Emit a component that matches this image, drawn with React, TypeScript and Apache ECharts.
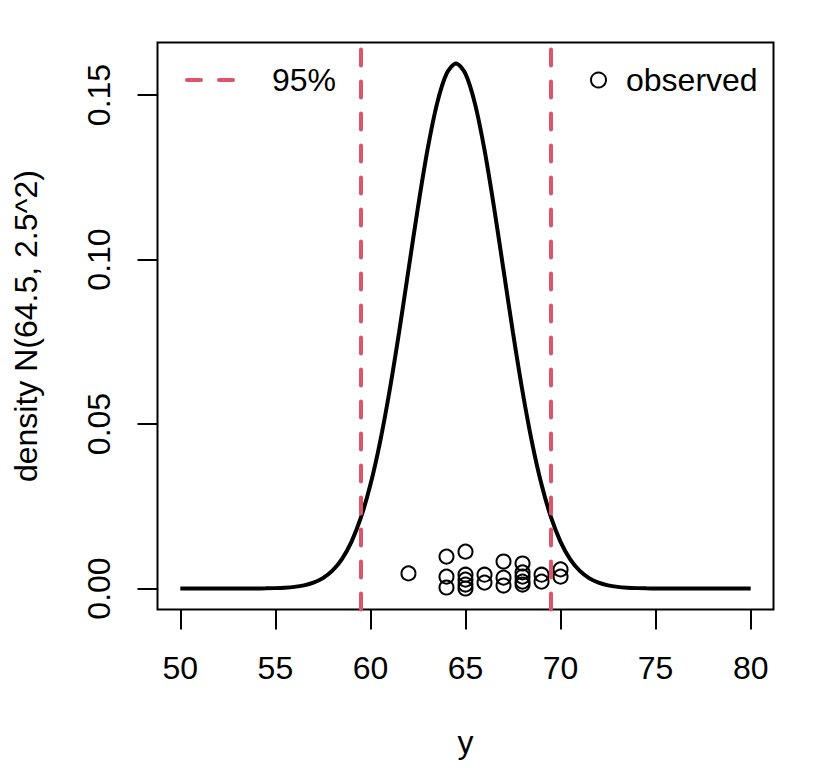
import React, { useEffect, useRef } from "react";
import * as echarts from "echarts";

const densityX = [
  50, 50.5, 51, 51.5, 52, 52.5, 53, 53.5, 54, 54.5, 55, 55.5, 56, 56.5, 57, 57.5, 58, 58.5, 59, 59.5,
  60, 60.5, 61, 61.5, 62, 62.5, 63, 63.5, 64, 64.5, 65, 65.5, 66, 66.5, 67, 67.5, 68, 68.5, 69, 69.5,
  70, 70.5, 71, 71.5, 72, 72.5, 73, 73.5, 74, 74.5, 75, 75.5, 76, 76.5, 77, 77.5, 78, 78.5, 79, 79.5, 80,
];
const densityY = [
  0, 0, 0, 0, 0.0000006, 0.0000016, 0.0000041, 0.00001, 0.0000235, 0.0000535,
  0.000117, 0.000245, 0.000493, 0.000954, 0.001773, 0.003166, 0.005433, 0.008958, 0.01419, 0.021596,
  0.03158, 0.044368, 0.059891, 0.077675, 0.096791, 0.115877, 0.13329, 0.147308, 0.156417, 0.159577,
  0.156417, 0.147308, 0.13329, 0.115877, 0.096791, 0.077675, 0.059891, 0.044368, 0.03158, 0.021596,
  0.01419, 0.008958, 0.005433, 0.003166, 0.001773, 0.000954, 0.000493, 0.000245, 0.000117, 0.0000535,
  0.0000235, 0.00001, 0.0000041, 0.0000016, 0.0000006, 0, 0, 0, 0, 0, 0,
];

const obsX = [62, 64, 64, 64, 65, 65, 65, 65, 65, 66, 66, 67, 67, 67, 68, 68, 68, 68, 68, 69, 69, 70, 70];
const obsY = [
  0.0046, 0.0097, 0.0036, 0.0003, 0.0112, 0.0042, 0.0027, 0.0012, 0.0, 0.0042, 0.0018, 0.0082,
  0.0033, 0.0009, 0.0076, 0.0049, 0.0036, 0.0021, 0.0012, 0.0042, 0.0021, 0.0058, 0.0036,
];

const intervalBounds = [59.5, 69.5];
const xTicks = [50, 55, 60, 65, 70, 75, 80];
const yTicks = [0, 0.05, 0.1, 0.15];
const yTickLabels = ["0.00", "0.05", "0.10", "0.15"];

const FONT = "'Liberation Sans', Arial, Helvetica, sans-serif";
const RED = "#DF536B";
const DASH_ICON =
  "path://M2,0 H16 A2,2 0 0 1 16,4 H2 A2,2 0 0 1 2,0 Z M34,0 H48 A2,2 0 0 1 48,4 H34 A2,2 0 0 1 34,0 Z";

export default function App() {
  const ref = useRef<HTMLDivElement>(null);
  useEffect(() => {
    document.body.style.margin = "0";
    if (!ref.current) return;
    const chart = echarts.init(ref.current, null, { renderer: "svg" });
    const densityData = densityX.map((x, i) => [x, densityY[i]]);
    const obsData = obsX.map((x, i) => [x, obsY[i]]);
    chart.setOption({
      animation: false,
      backgroundColor: "#fff",
      textStyle: { fontFamily: FONT, color: "#000" },
      grid: {
        left: 157.5,
        top: 42.5,
        width: 616,
        height: 567,
        show: true,
        borderColor: "#000",
        borderWidth: 2,
        backgroundColor: "transparent",
      },
      legend: [
        {
          data: [{ name: "95%", icon: DASH_ICON, itemStyle: { color: RED } }],
          left: 185,
          top: 64,
          padding: 0,
          itemWidth: 50,
          itemHeight: 4.5,
          selectedMode: false,
          textStyle: { fontFamily: FONT, fontSize: 32, color: "#000", padding: [0, 0, 0, 32] },
        },
        {
          data: ["observed"],
          left: 590,
          top: 64,
          padding: 0,
          itemWidth: 15,
          itemHeight: 15,
          selectedMode: false,
          textStyle: { fontFamily: FONT, fontSize: 32, color: "#000", padding: [0, 0, 0, 15] },
        },
      ],
      xAxis: {
        type: "value",
        min: 48.8,
        max: 81.2,
        name: "y",
        nameLocation: "middle",
        nameGap: 116,
        nameTextStyle: { fontFamily: FONT, fontSize: 32, color: "#000" },
        splitLine: { show: false },
        axisLine: { show: false, onZero: false },
        axisTick: {
          show: true,
          inside: false,
          length: 20,
          customValues: xTicks,
          lineStyle: { color: "#000", width: 2 },
        },
        axisLabel: {
          show: true,
          customValues: xTicks,
          margin: 42,
          fontFamily: FONT,
          fontSize: 32,
          color: "#000",
        },
      },
      yAxis: {
        type: "value",
        min: -0.00638,
        max: 0.16596,
        name: "density N(64.5, 2.5^2)",
        nameLocation: "middle",
        nameGap: 116,
        nameRotate: 90,
        nameTextStyle: { fontFamily: FONT, fontSize: 32, color: "#000" },
        splitLine: { show: false },
        axisLine: { show: false, onZero: false },
        axisTick: {
          show: true,
          inside: false,
          length: 20,
          customValues: yTicks,
          lineStyle: { color: "#000", width: 2 },
        },
        axisLabel: {
          show: true,
          customValues: yTicks,
          rotate: 90,
          margin: 43,
          fontFamily: FONT,
          fontSize: 32,
          color: "#000",
          formatter: (v: number) => {
            const i = yTicks.findIndex((t) => Math.abs(t - v) < 1e-9);
            return i >= 0 ? yTickLabels[i] : "";
          },
        },
      },
      series: [
        {
          name: "density",
          type: "line",
          data: densityData,
          showSymbol: false,
          symbol: "none",
          smooth: 0.3,
          lineStyle: { color: "#000", width: 4 },
          z: 3,
        },
        {
          name: "95%",
          type: "line",
          data: [],
          symbol: "none",
          itemStyle: { color: RED },
          lineStyle: { color: RED, width: 4, type: [16, 16], cap: "round" },
          markLine: {
            silent: true,
            symbol: ["none", "none"],
            label: { show: false },
            lineStyle: { color: RED, width: 4, type: [16, 16], cap: "round" },
            data: intervalBounds.map((v) => ({ xAxis: v })),
          },
          z: 2,
        },
        {
          name: "observed",
          type: "scatter",
          data: obsData,
          symbol: "circle",
          symbolSize: 14,
          itemStyle: { color: "transparent", borderColor: "#000", borderWidth: 2, opacity: 1 },
          z: 4,
        },
      ],
    });
    return () => chart.dispose();
  }, []);
  return (
    <div
      ref={ref}
      style={{ width: 816, height: 768, position: "absolute", left: 0, top: 0 }}
    />
  );
}
